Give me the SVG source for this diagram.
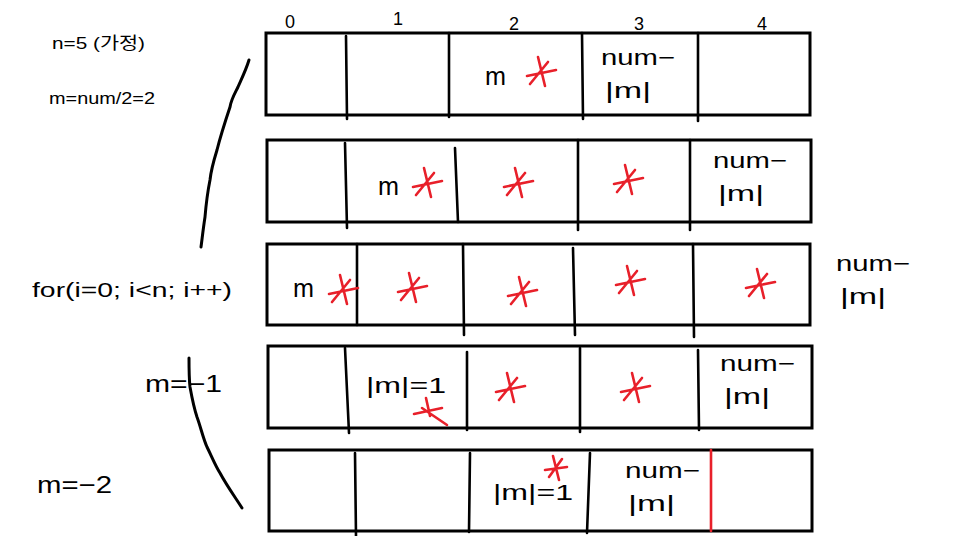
<svg xmlns="http://www.w3.org/2000/svg" width="965" height="536" viewBox="0 0 965 536">
<style>
.box{fill:none;stroke:#000;stroke-width:3}
.div{stroke:#000;stroke-width:2.6;stroke-linecap:round}
.red{stroke:#e8202a;stroke-width:2.6;stroke-linecap:round}
.t{font-family:"Liberation Sans","Noto Sans CJK KR",sans-serif;fill:#000}
.s22{font-size:22px}
.s17{font-size:17px}
.s18{font-size:18px}
.m{font-size:25px}
.curve{fill:none;stroke:#000;stroke-width:3;stroke-linecap:round;stroke-linejoin:round}
</style>
<defs>
<g id="star" stroke="#e8202a" stroke-width="2.6" stroke-linecap="round" fill="none">
<path d="M-3,-15 L4,14 M-14,4 L15,-2 M-11,12 L7,-10"/>
</g>
</defs>
<rect width="965" height="536" fill="#fff"/>

<g id="labels">
<text class="t s18" x="285" y="28">0</text>
<text class="t s18" x="393" y="25">1</text>
<text class="t s18" x="509" y="30">2</text>
<text class="t s18" x="634" y="30">3</text>
<text class="t s18" x="757" y="30">4</text>
<text class="t s17" x="52" y="49" textLength="93" lengthAdjust="spacingAndGlyphs">n=5 (가정)</text>
<text class="t s17" x="49" y="104" textLength="106" lengthAdjust="spacingAndGlyphs">m=num/2=2</text>
<text class="t" font-size="21" x="32" y="297" textLength="200" lengthAdjust="spacingAndGlyphs">for(i=0; i&lt;n; i++)</text>
<text class="t" font-size="24" x="145" y="392" textLength="77" lengthAdjust="spacingAndGlyphs">m=−1</text>
<text class="t" font-size="24" x="37" y="493" textLength="75" lengthAdjust="spacingAndGlyphs">m=−2</text>
</g>

<g id="row1">
<rect class="box" x="266" y="33" width="544" height="82"/>
<line class="div" x1="346" y1="36" x2="347" y2="119"/>
<line class="div" x1="449" y1="33" x2="449" y2="117"/>
<line class="div" x1="582" y1="33" x2="583" y2="119"/>
<line class="div" x1="698" y1="33" x2="698" y2="121"/>
<text class="t m" x="485" y="85" textLength="21" lengthAdjust="spacingAndGlyphs">m</text>
<use href="#star" x="541" y="72"/>
<text class="t s22" x="601" y="65" textLength="74" lengthAdjust="spacingAndGlyphs">num−</text>
<text class="t s22" x="605" y="98" textLength="46" lengthAdjust="spacingAndGlyphs">|m|</text>
</g>

<g id="row2">
<rect class="box" x="267" y="140" width="544" height="82"/>
<line class="div" x1="345" y1="143" x2="347" y2="228"/>
<line class="div" x1="455" y1="148" x2="458" y2="222"/>
<line class="div" x1="578" y1="140" x2="578" y2="230"/>
<line class="div" x1="690" y1="140" x2="690" y2="230"/>
<text class="t m" x="378" y="195" textLength="21" lengthAdjust="spacingAndGlyphs">m</text>
<use href="#star" x="427" y="183"/>
<use href="#star" x="518" y="183"/>
<use href="#star" x="628" y="180"/>
<text class="t s22" x="713" y="168" textLength="74" lengthAdjust="spacingAndGlyphs">num−</text>
<text class="t s22" x="718" y="201" textLength="46" lengthAdjust="spacingAndGlyphs">|m|</text>
</g>

<g id="row3">
<rect class="box" x="267" y="244" width="543" height="81"/>
<line class="div" x1="357" y1="244" x2="357" y2="325"/>
<line class="div" x1="463" y1="244" x2="464" y2="335"/>
<line class="div" x1="573" y1="248" x2="575" y2="335"/>
<line class="div" x1="693" y1="244" x2="694" y2="337"/>
<text class="t m" x="293" y="297" textLength="21" lengthAdjust="spacingAndGlyphs">m</text>
<use href="#star" x="343" y="290"/>
<use href="#star" x="412" y="288"/>
<use href="#star" x="522" y="292"/>
<use href="#star" x="630" y="281"/>
<use href="#star" x="760" y="284"/>
<text class="t s22" x="836" y="271" textLength="74" lengthAdjust="spacingAndGlyphs">num−</text>
<text class="t s22" x="840" y="304" textLength="46" lengthAdjust="spacingAndGlyphs">|m|</text>
</g>

<g id="row4">
<rect class="box" x="268" y="346" width="544" height="82"/>
<line class="div" x1="345" y1="348" x2="349" y2="433"/>
<line class="div" x1="467" y1="352" x2="467" y2="430"/>
<line class="div" x1="580" y1="348" x2="580" y2="432"/>
<line class="div" x1="698" y1="350" x2="699" y2="430"/>
<text class="t s22" x="366" y="393" textLength="80" lengthAdjust="spacingAndGlyphs">|m|=1</text>
<g transform="translate(428 410)" class="red" fill="none">
<path d="M-2,-12 L2,6 M-14,4 L14,-2 M-6,-2 L19,15"/>
</g>
<use href="#star" x="510" y="388"/>
<use href="#star" x="635" y="388"/>
<text class="t s22" x="720" y="371" textLength="75" lengthAdjust="spacingAndGlyphs">num−</text>
<text class="t s22" x="724" y="404" textLength="46" lengthAdjust="spacingAndGlyphs">|m|</text>
</g>

<g id="row5">
<rect class="box" x="269" y="450" width="543" height="81"/>
<line class="div" x1="355" y1="453" x2="356" y2="536"/>
<line class="div" x1="470" y1="453" x2="469" y2="532"/>
<line class="div" x1="590" y1="453" x2="587" y2="533"/>
<line class="red" x1="711" y1="450" x2="711" y2="531"/>
<text class="t s22" x="493" y="500" textLength="80" lengthAdjust="spacingAndGlyphs">|m|=1</text>
<g transform="translate(556 468)" class="red" fill="none">
<path d="M-3,-12 L3,12 M-11,2 L11,-1 M-7,9 L6,-9"/>
</g>
<text class="t s22" x="625" y="478" textLength="75" lengthAdjust="spacingAndGlyphs">num−</text>
<text class="t s22" x="628" y="511" textLength="47" lengthAdjust="spacingAndGlyphs">|m|</text>
</g>

<g id="connectors">
<path class="curve" d="M249,60 C246,70 241,80 238,87 C234,95 231,100 230,107 C224,125 220,138 217,150 C213,163 211,170 210,180 C207,195 206,205 205,217 C203,230 202,240 201,247"/>
<path class="curve" d="M189,358 C189,368 189,378 190,387 C192,398 194,408 197,417 C201,428 203,438 207,447 C212,457 215,465 220,473 C227,486 235,497 242,508"/>
</g>
</svg>
